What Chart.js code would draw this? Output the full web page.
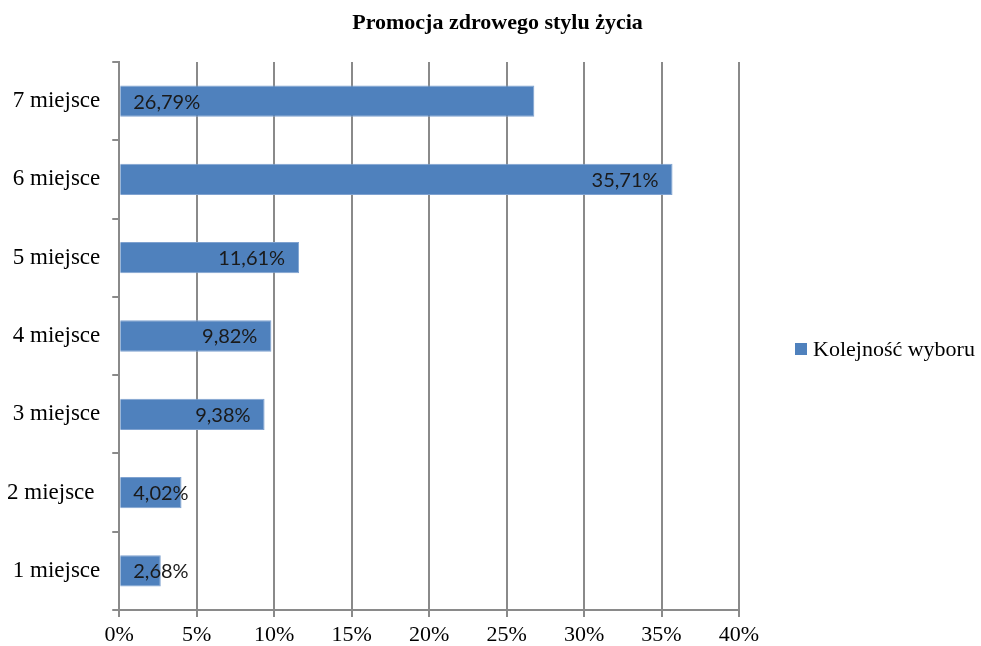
<!DOCTYPE html>
<html>
<head>
<meta charset="utf-8">
<title>Promocja zdrowego stylu życia</title>
<script src="https://cdn.jsdelivr.net/npm/chart.js@4.4.1/dist/chart.umd.min.js"></script>
<style>
    html, body { margin: 0; padding: 0; background: #ffffff; }
    #wrap { width: 981px; height: 646px; }
</style>
</head>
<body>
<div id="wrap"><canvas id="chart" width="981" height="646"></canvas></div>
<script>
// Data
const chartTitle = 'Promocja zdrowego stylu życia';
const categories = ['1 miejsce', '2 miejsce ', '3 miejsce', '4 miejsce', '5 miejsce', '6 miejsce', '7 miejsce'];
const values = [2.68, 4.02, 9.38, 9.82, 11.61, 35.71, 26.79];
const labelSide = ['end', 'end', 'end', 'end', 'end', 'end', 'start'];
const xTicks = [0, 5, 10, 15, 20, 25, 30, 35, 40];
const seriesName = 'Kolejność wyboru';

const barColor = '#4f81bd';
const gridColor = '#8a8a8a';
const serif = "'Liberation Serif', 'Times New Roman', serif";

// Value labels inside the bars, Excel style
const barLabels = {
    id: 'barLabels',
    afterDatasetsDraw(chart) {
        const ctx = chart.ctx;
        const meta = chart.getDatasetMeta(0);
        ctx.save();
        ctx.font = "20px Lato, 'Liberation Sans', sans-serif";
        ctx.fillStyle = '#1a1a1a';
        ctx.textBaseline = 'middle';
        ctx.textAlign = 'left';
        meta.data.forEach((bar, i) => {
            const text = values[i].toFixed(2).replace('.', ',') + '%';
            const w = ctx.measureText(text).width;
            let x = bar.base + 13;
            if (labelSide[i] === 'end') {
                x = Math.max(bar.base + 13, bar.x - 14 - w);
            }
            ctx.fillText(text, x, bar.y + 1);
        });
        ctx.restore();
    }
};

// Title across the whole canvas and legend to the right of the plot
const frame = {
    id: 'frame',
    afterDraw(chart) {
        const ctx = chart.ctx;
        const area = chart.chartArea;
        ctx.save();
        ctx.fillStyle = '#000';
        ctx.textBaseline = 'middle';
        ctx.textAlign = 'center';
        ctx.font = 'bold 22px ' + serif;
        ctx.fillText(chartTitle, chart.width / 2 + 7, 23);

        const x = area.right + 56;
        const y = (area.top + area.bottom) / 2 + 13;
        ctx.fillStyle = barColor;
        ctx.fillRect(x, y - 6, 12, 12);
        ctx.fillStyle = '#000';
        ctx.font = '22px ' + serif;
        ctx.textAlign = 'left';
        ctx.fillText(chart.data.datasets[0].label, x + 18, y + 1);
        ctx.restore();
    }
};

new Chart(document.getElementById('chart'), {
    type: 'bar',
    data: {
        labels: categories,
        datasets: [{
            label: seriesName,
            data: values,
            backgroundColor: barColor,
            borderColor: '#7fa2d0',
            borderWidth: 1,
            barPercentage: 0.4,
            categoryPercentage: 1
        }]
    },
    options: {
        indexAxis: 'y',
        responsive: false,
        animation: false,
        layout: { padding: { left: -5, right: 242, top: 62, bottom: -7 } },
        plugins: {
            title: { display: false },
            legend: { display: false },
            tooltip: { enabled: false }
        },
        scales: {
            x: {
                min: 0,
                max: 40,
                afterBuildTicks: (axis) => { axis.ticks = xTicks.map(v => ({ value: v })); },
                grid: {
                    color: gridColor,
                    lineWidth: 2,
                    tickLength: 7,
                    drawTicks: true
                },
                border: { display: true, color: gridColor, width: 2 },
                ticks: {
                    color: '#000',
                    font: { family: serif, size: 22, lineHeight: 1 },
                    padding: 7,
                    callback: (v) => v + '%'
                }
            },
            y: {
                reverse: true,
                grid: {
                    drawOnChartArea: false,
                    drawTicks: true,
                    tickLength: 7,
                    color: gridColor,
                    lineWidth: 2,
                    offset: true
                },
                border: { display: true, color: gridColor, width: 2 },
                ticks: {
                    color: '#000',
                    font: { family: serif, size: 23 },
                    padding: 12
                }
            }
        }
    },
    plugins: [barLabels, frame]
});
</script>
</body>
</html>
